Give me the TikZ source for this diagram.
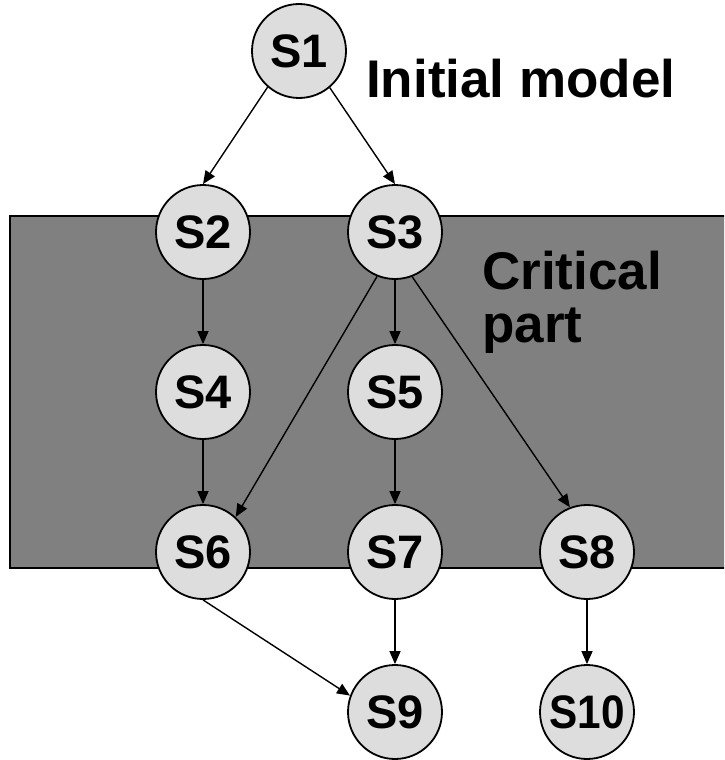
\documentclass[tikz,border=0pt]{standalone}
\usepackage{fontspec}
\setmainfont{Liberation Sans}
\usetikzlibrary{arrows.meta}
\definecolor{boxgray}{HTML}{808080}
\definecolor{nodegray}{HTML}{DDDDDD}
\tikzset{
  state/.style={circle, draw=black, line width=1.8pt, fill=nodegray, minimum size=94pt, inner sep=0pt,
    font=\fontsize{47}{47}\selectfont\bfseries},
  edge/.style={line width=1.4pt, -{Triangle[length=13pt,width=11pt]}},
  bigtext/.style={font=\fontsize{53}{53}\selectfont\bfseries, inner sep=0pt}
}
\begin{document}
\begin{tikzpicture}[x=1pt,y=-1pt]
\useasboundingbox (0,0) rectangle (724,760);
\clip (0,0) rectangle (724,760);
\draw[line width=2.6pt, fill=boxgray] (10,216) rectangle (760,568);
\node[state] (S1) at (299,51) {S1};
\node[state] (S2) at (203,232) {S2};
\node[state] (S3) at (395,232) {S3};
\node[state] (S4) at (203,392) {S4};
\node[state] (S5) at (395,392) {S5};
\node[state] (S6) at (203,552) {S6};
\node[state] (S7) at (395,552) {S7};
\node[state] (S8) at (587,552) {S8};
\node[state] (S9) at (395,712) {S9};
\node[state] (S10) at (587,712) {\scalebox{0.9}[1]{S10}};
\node[bigtext, anchor=base west] (init) at (366,97) {Initial model};
\node[bigtext, anchor=north west, align=left] (crit) at (482,251) {Critical\\part};
\draw[edge] (S1.229) -- (S2.north);
\draw[edge] (S1.310) -- (S3.north);
\draw[edge] (S2.south) -- (S4.north);
\draw[edge] (S3.south) -- (S5.north);
\draw[edge] (S3.248) -- (S6.47);
\draw[edge] (S3.291) -- (S8.111);
\draw[edge] (S4.south) -- (S6.north);
\draw[edge] (S5.south) -- (S7.north);
\draw[edge] (S6.south) -- (S9.160);
\draw[edge] (S7.south) -- (S9.north);
\draw[edge] (S8.south) -- (S10.north);
\end{tikzpicture}
\end{document}
